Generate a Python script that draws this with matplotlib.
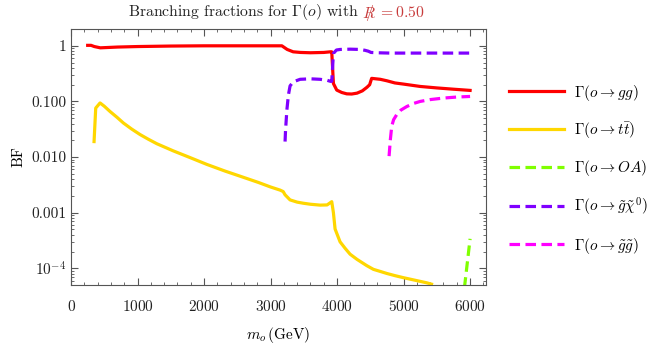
import numpy as np
import matplotlib
matplotlib.use("Agg")
import matplotlib.pyplot as plt
from matplotlib.ticker import FixedLocator, FixedFormatter, MultipleLocator, LogLocator, NullFormatter

plt.rcParams['font.family'] = 'cmr10'
plt.rcParams['mathtext.fontset'] = 'cm'
plt.rcParams['axes.formatter.use_mathtext'] = True

# branching fractions
m_gg = [250, 300, 350, 440, 700, 1000, 1500, 2000, 2500, 3000, 3170, 3250, 3340, 3450,
        3600, 3800, 3900, 3920, 3945, 3995, 4070, 4145, 4220, 4300, 4380, 4450, 4490, 4520,
        4650, 4750, 4870, 5000, 5250, 5500, 5750, 6000]
bf_gg = [1.02, 1.02, 0.97, 0.92, 0.95, 0.97, 0.99, 1.0, 1.0, 1.0, 1.0, 0.86, 0.78, 0.76,
         0.75, 0.76, 0.78, 0.78, 0.21, 0.16, 0.145, 0.137, 0.136, 0.141, 0.155, 0.18, 0.2, 0.26,
         0.25, 0.235, 0.215, 0.205, 0.186, 0.175, 0.166, 0.158]

m_tt = [346, 371, 436, 500, 586, 690, 787, 910, 1038, 1160, 1289, 1539, 1789, 2040,
        2316, 2550, 2817, 3000, 3143, 3190, 3218, 3293, 3400, 3494, 3600, 3744, 3850,
        3920, 3945, 3970, 4045, 4120, 4195, 4300, 4446, 4546, 4650, 4747, 4870, 4997,
        5150, 5348, 5420]
bf_tt = [0.019, 0.076, 0.094, 0.082, 0.066, 0.052, 0.041, 0.032, 0.0254, 0.021, 0.0174,
         0.0129, 0.0098, 0.0074, 0.0056, 0.0045, 0.0035, 0.0029, 0.00255, 0.0024, 0.0021,
         0.0017, 0.00155, 0.00148, 0.00142, 0.00137, 0.00138, 0.00158, 0.001, 0.00051,
         0.0003, 0.00023, 0.00018, 0.000145, 0.000112, 0.000096, 0.000088, 0.000081,
         0.000074, 0.000068, 0.000062, 0.000055, 0.000052]

m_oa = [5915, 6000]
bf_oa = [4.5e-5, 3.4e-4]

m_gchi = [3218, 3225, 3245, 3268, 3293, 3340, 3444, 3600, 3744, 3850, 3900, 3920,
          3945, 3990, 4045, 4200, 4346, 4420, 4470, 4510, 4600, 4800, 5200, 5600, 6000]
bf_gchi = [0.019, 0.03, 0.07, 0.13, 0.19, 0.225, 0.25, 0.255, 0.25, 0.24, 0.23, 0.23,
           0.73, 0.84, 0.86, 0.87, 0.86, 0.83, 0.8, 0.76, 0.75, 0.74, 0.74, 0.74, 0.74]

m_gg2 = [4782, 4800, 4822, 4850, 4897, 4960, 5048, 5150, 5248, 5400, 5599, 5800, 6000]
bf_gg2 = [0.0104, 0.02, 0.036, 0.047, 0.058, 0.07, 0.081, 0.092, 0.1, 0.108, 0.115, 0.12, 0.123]

yticks = [1e-4, 1e-3, 1e-2, 1e-1, 1]
ytick_labels = [r'$10^{-4}$', '0.001', '0.010', '0.100', '1']

fig = plt.figure(figsize=(6.64, 3.46), dpi=100)
ax = fig.add_axes([0.107, 0.176, 0.625, 0.740])

dash = (3.3, 1.7)
ax.plot(m_gg, bf_gg, color='#FF0000', lw=2.3, label=r'$\Gamma(o\rightarrow gg)$')
ax.plot(m_tt, bf_tt, color='#FFD700', lw=2.3, label=r'$\Gamma(o\rightarrow t\bar{t})$')
ax.plot(m_oa, bf_oa, color='#80FF00', lw=2.3, dashes=dash, label=r'$\Gamma(o\rightarrow OA)$')
ax.plot(m_gchi, bf_gchi, color='#7F00FF', lw=2.3, dashes=dash,
        label=r'$\Gamma(o\rightarrow \tilde{g}\tilde{\chi}^0)$')
ax.plot(m_gg2, bf_gg2, color='#FF00FF', lw=2.3, dashes=dash,
        label=r'$\Gamma(o\rightarrow \tilde{g}\tilde{g})$')

ax.set_yscale('log')
ax.set_xlim(0, 6240)
ax.set_ylim(5e-5, 2.0)
ax.yaxis.set_major_locator(FixedLocator(yticks))
ax.yaxis.set_major_formatter(FixedFormatter(ytick_labels))
ax.yaxis.set_minor_locator(LogLocator(base=10, subs=np.arange(2, 10)))
ax.yaxis.set_minor_formatter(NullFormatter())
ax.xaxis.set_major_locator(MultipleLocator(1000))
ax.xaxis.set_minor_locator(MultipleLocator(200))

for s in ax.spines.values():
    s.set_color('#555555')
ax.tick_params(which='both', direction='in', top=True, right=True, colors='#555555',
               labelcolor='#222222', labelsize=11)
ax.tick_params(which='major', length=5)
ax.tick_params(which='minor', length=2.5)
ax.tick_params(axis='x', pad=10)

ax.set_xlabel(r'$m_o\,$(GeV)', fontsize=11, labelpad=8)
ax.set_ylabel('BF', fontsize=11, labelpad=4)

# title in two colours, R with a slash drawn over it
red_t = '#C83C3C'
fig.text(0.540, 0.965, r'Branching fractions for $\Gamma(o)$ with', ha='right', va='center',
         fontsize=11.3, color='#222222')
fig.text(0.555, 0.962, r'$R$', ha='center', va='center', fontsize=11.3, color=red_t)
fig.text(0.556, 0.962, r'$/$', ha='center', va='center', fontsize=11.3, color=red_t)
fig.text(0.569, 0.965, r'$= 0.50$', ha='left', va='center', fontsize=11.3, color=red_t)

ax.legend(loc='center left', bbox_to_anchor=(1.023, 0.453), frameon=False, fontsize=11,
          handlelength=3.6, labelspacing=1.15, handletextpad=0.6)

fig.savefig('out.png', dpi=100)
